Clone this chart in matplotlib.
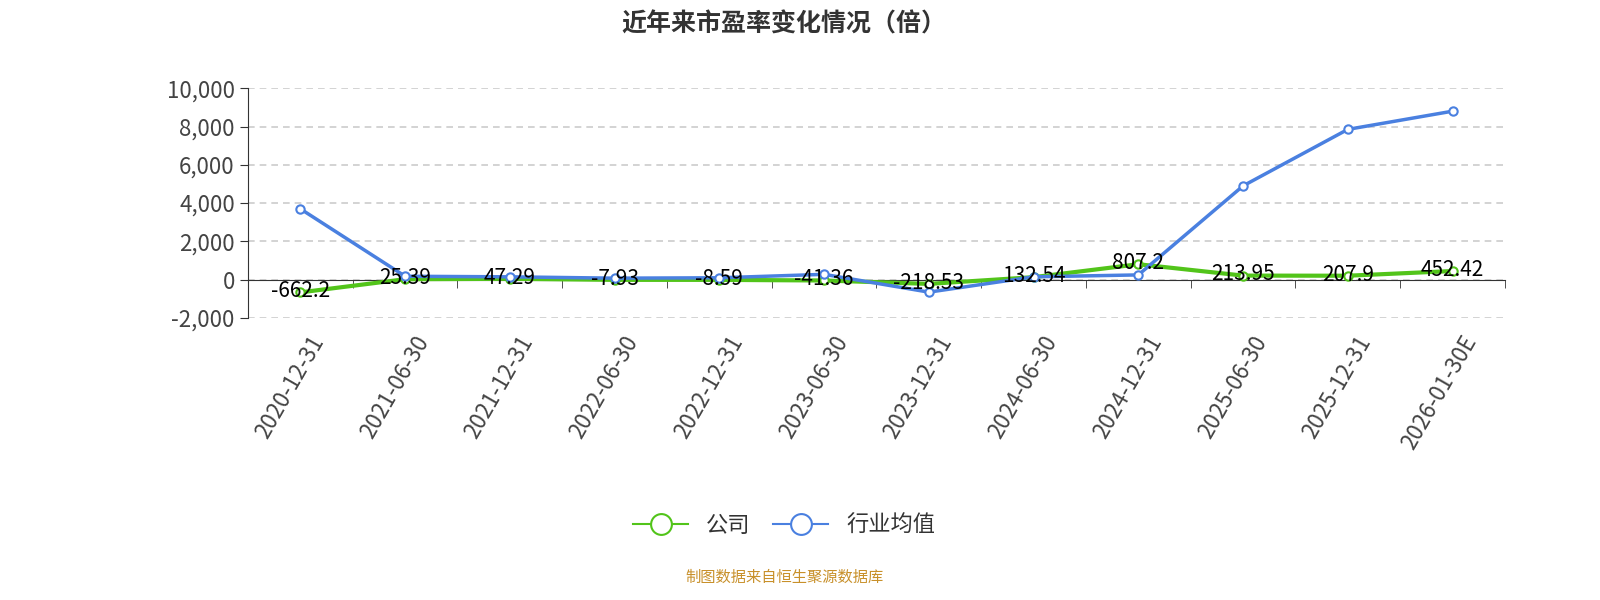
import matplotlib
matplotlib.use("Agg")
import matplotlib.pyplot as plt
from matplotlib.ticker import FuncFormatter, FixedLocator
from matplotlib.lines import Line2D

plt.rcParams['font.family'] = ['Noto Sans CJK SC', 'DejaVu Sans']

categories = ["2020-12-31","2021-06-30","2021-12-31","2022-06-30","2022-12-31","2023-06-30",
              "2023-12-31","2024-06-30","2024-12-31","2025-06-30","2025-12-31","2026-01-30E"]
company = [-662.2, 25.39, 47.29, -7.93, -8.59, -41.36, -218.53, 132.54, 807.2, 213.95, 207.9, 452.42]
company_labels = ["-662.2","25.39","47.29","-7.93","-8.59","-41.36","-218.53","132.54","807.2","213.95","207.9","452.42"]
industry = [3700, 180, 150, 80, 100, 280, -650, 150, 250, 4900, 7850, 8800]

fig = plt.figure(figsize=(16, 6), dpi=100)
ax = fig.add_axes([0.155, 0.47, 0.7856, 0.383])
x = list(range(len(categories)))
green = "#52c41a"; blue = "#4a80e0"
ax.plot(x, company, color=green, lw=3, marker='o', ms=6, mfc='white', mec=green, mew=1.5, zorder=3)
ax.plot(x, industry, color=blue, lw=2.5, marker='o', ms=6, mfc='white', mec=blue, mew=1.5, zorder=4)
for xi, v, t in zip(x, company, company_labels):
    ax.text(xi, v + 60, t, ha='center', va='center', fontsize=15, color='black', zorder=5)

ax.set_xlim(-0.5, len(categories) - 0.5)
ax.set_ylim(-2000, 10000)
ax.set_yticks(range(-2000, 10001, 2000))
ax.yaxis.set_major_formatter(FuncFormatter(lambda v, p: f"{int(v):,}"))
ax.grid(axis='y', color='#cccccc', ls=(0, (4, 3)), lw=1.2)
for s in ['top', 'right']:
    ax.spines[s].set_visible(False)
ax.spines['bottom'].set_position(('data', 0))
ax.spines['left'].set_color('#333333')
ax.spines['bottom'].set_color('#333333')
ax.set_xticks(x)
ax.set_xticklabels([])
ax.tick_params(axis='x', length=0)
ax.xaxis.set_minor_locator(FixedLocator([i - 0.5 for i in range(len(categories) + 1)]))
ax.tick_params(axis='x', which='minor', length=6, color='#333333', direction='out')
ax.tick_params(axis='y', labelsize=16, labelcolor='#444444', length=6, color='#333333')
for xi, c in zip(x, categories):
    ax.annotate(c, xy=(xi, -2000), xycoords='data', xytext=(6, -10), textcoords='offset points',
                rotation=60, ha='right', va='top', fontsize=16, color='#444444', rotation_mode='anchor')

fig.text(0.49, 0.96, "近年来市盈率变化情况（倍）", ha='center', va='center', fontsize=18, fontweight='bold', color='#333333')
handles = [Line2D([], [], color=green, lw=1.5, marker='o', ms=15, mfc='white', mec=green, mew=1.5),
           Line2D([], [], color=blue, lw=1.5, marker='o', ms=15, mfc='white', mec=blue, mew=1.5)]
fig.legend(handles, ["公司", "行业均值"], loc='center', bbox_to_anchor=(0.49, 0.125), ncol=2, frameon=False,
           fontsize=16, handlelength=2.5, columnspacing=1.0, labelcolor='#333333')
fig.text(0.49, 0.038, "制图数据来自恒生聚源数据库", ha='center', va='center', fontsize=11, color='#c8902a')
fig.savefig("out.png", dpi=100)
